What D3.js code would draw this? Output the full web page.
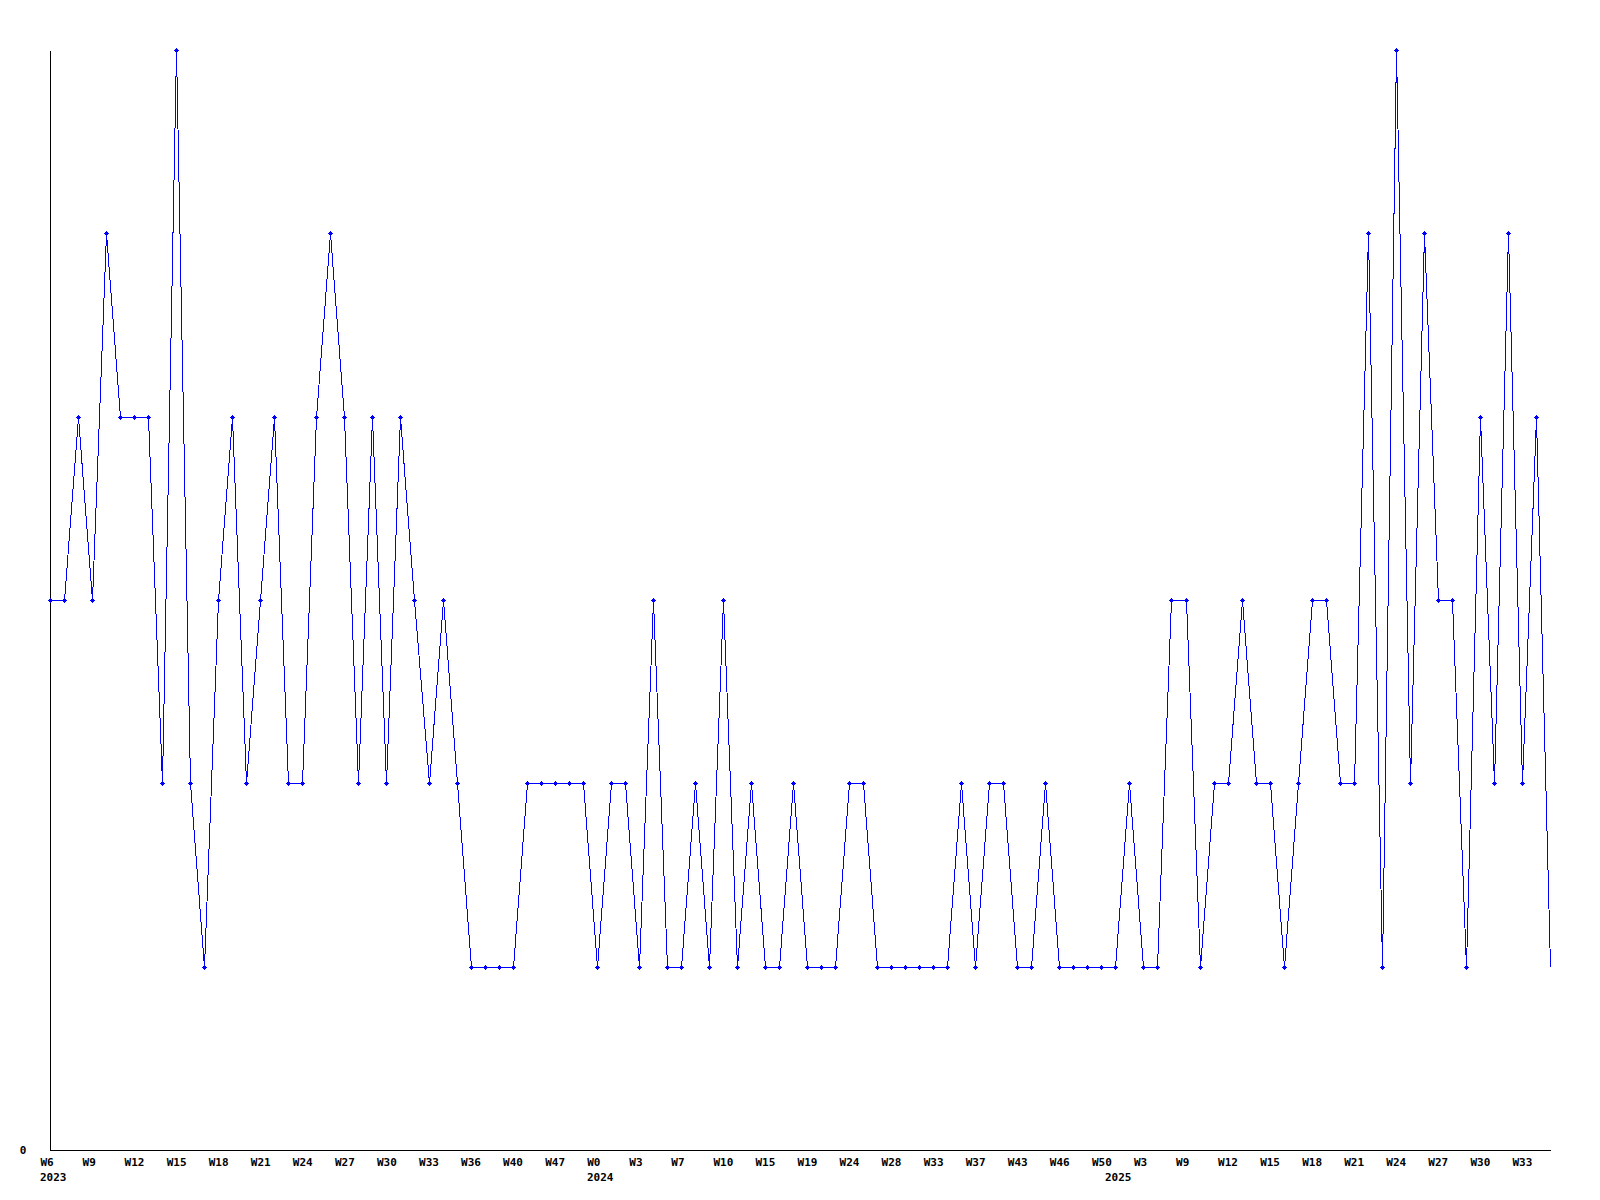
<!DOCTYPE html>
<html>
<head>
<meta charset="utf-8">
<script src="https://cdn.jsdelivr.net/npm/d3@7"></script>
<style>
  html, body { margin: 0; padding: 0; background: #fff; }
  svg { display: block; }
  text { font-family: "DejaVu Sans Mono", "Liberation Mono", monospace; font-weight: bold; font-size: 11px; fill: #000; }
</style>
</head>
<body>
<svg id="chart" width="1600" height="1200"></svg>
<script>
// Weekly values, one per plotted point (2023 W6 onwards)
const values = [
  3, 3, 4, 3, 5, 4, 4, 4, 2, 6,
  2, 1, 3, 4, 2, 3, 4, 2, 2, 4,
  5, 4, 2, 4, 2, 4, 3, 2, 3, 2,
  1, 1, 1, 1, 2, 2, 2, 2, 2, 1,
  2, 2, 1, 3, 1, 1, 2, 1, 3, 1,
  2, 1, 1, 2, 1, 1, 1, 2, 2, 1,
  1, 1, 1, 1, 1, 2, 1, 2, 2, 1,
  1, 2, 1, 1, 1, 1, 1, 2, 1, 1,
  3, 3, 1, 2, 2, 3, 2, 2, 1, 2,
  3, 3, 2, 2, 5, 1, 6, 2, 5, 3,
  3, 1, 4, 2, 5, 2, 4, 1
];
// Tick labels shown on every third point
const tickLabels = [
  "W6", "W9", "W12", "W15", "W18", "W21", "W24", "W27", "W30", "W33",
  "W36", "W40", "W47", "W0", "W3", "W7", "W10", "W15", "W19", "W24",
  "W28", "W33", "W37", "W43", "W46", "W50", "W3", "W9", "W12", "W15",
  "W18", "W21", "W24", "W27", "W30", "W33"
];
const tickStep = 3;
const yearLabels = ["2023", "2024", "2025"];
const yearIndex = [0, 39, 76];
const yTicks = [0];

const svg = d3.select("#chart");
const mLeft = 50, mRight = 1550, mTop = 50, mBottom = 1150;

const x = d3.scaleLinear().domain([0, values.length - 1]).range([mLeft, mRight]);
const y = d3.scaleLinear().domain([0, 6]).range([mBottom, mTop]);

// X axis
const tickIdx = tickLabels.map((d, i) => i * tickStep);
const xAxis = d3.axisBottom(x)
  .tickValues(tickIdx)
  .tickSize(0)
  .tickSizeOuter(0)
  .tickFormat((d, i) => tickLabels[i]);
const gx = svg.append("g").attr("transform", `translate(0,${mBottom})`).call(xAxis);
gx.select(".domain").attr("stroke", "#000").attr("shape-rendering", "crispEdges");
gx.attr("font-family", null).attr("font-size", null);
gx.selectAll(".tick text")
  .attr("text-anchor", "start")
  .attr("x", -10).attr("y", 16).attr("dy", null)
  .style("fill", "#000");

// Year labels
svg.append("g").selectAll("text").data(yearLabels).join("text")
  .attr("x", (d, i) => Math.round(x(yearIndex[i])) - 10)
  .attr("y", mBottom + 31)
  .text(d => d);

// Y axis
const yAxis = d3.axisLeft(y).tickValues(yTicks).tickSize(0).tickSizeOuter(0).tickFormat(d3.format("d"));
const gy = svg.append("g").attr("transform", `translate(${mLeft},0)`).call(yAxis);
gy.select(".domain").attr("stroke", "#000").attr("shape-rendering", "crispEdges");
gy.attr("font-family", null).attr("font-size", null);
gy.selectAll(".tick text")
  .attr("text-anchor", "middle")
  .attr("x", -27).attr("dy", "0.35em")
  .style("fill", "#000");

// Line
const line = d3.line().x((d, i) => Math.round(x(i)) + 0.5).y(d => Math.round(y(d)) + 0.5);
svg.append("path")
  .datum(values)
  .attr("d", line)
  .attr("fill", "none")
  .attr("stroke", "#0000ff")
  .attr("stroke-width", 1)
  .attr("shape-rendering", "crispEdges");

// Markers (last point has none)
const marker = "M-2,0h5v1h-5z M0,-2h1v5h-1z M-1,-1h3v3h-3z";
svg.append("g").selectAll("path").data(values.slice(0, values.length - 1)).join("path")
  .attr("transform", (d, i) => `translate(${Math.round(x(i))},${Math.round(y(d))})`)
  .attr("d", marker)
  .attr("fill", "#0000ff")
  .attr("shape-rendering", "crispEdges");
</script>
</body>
</html>
